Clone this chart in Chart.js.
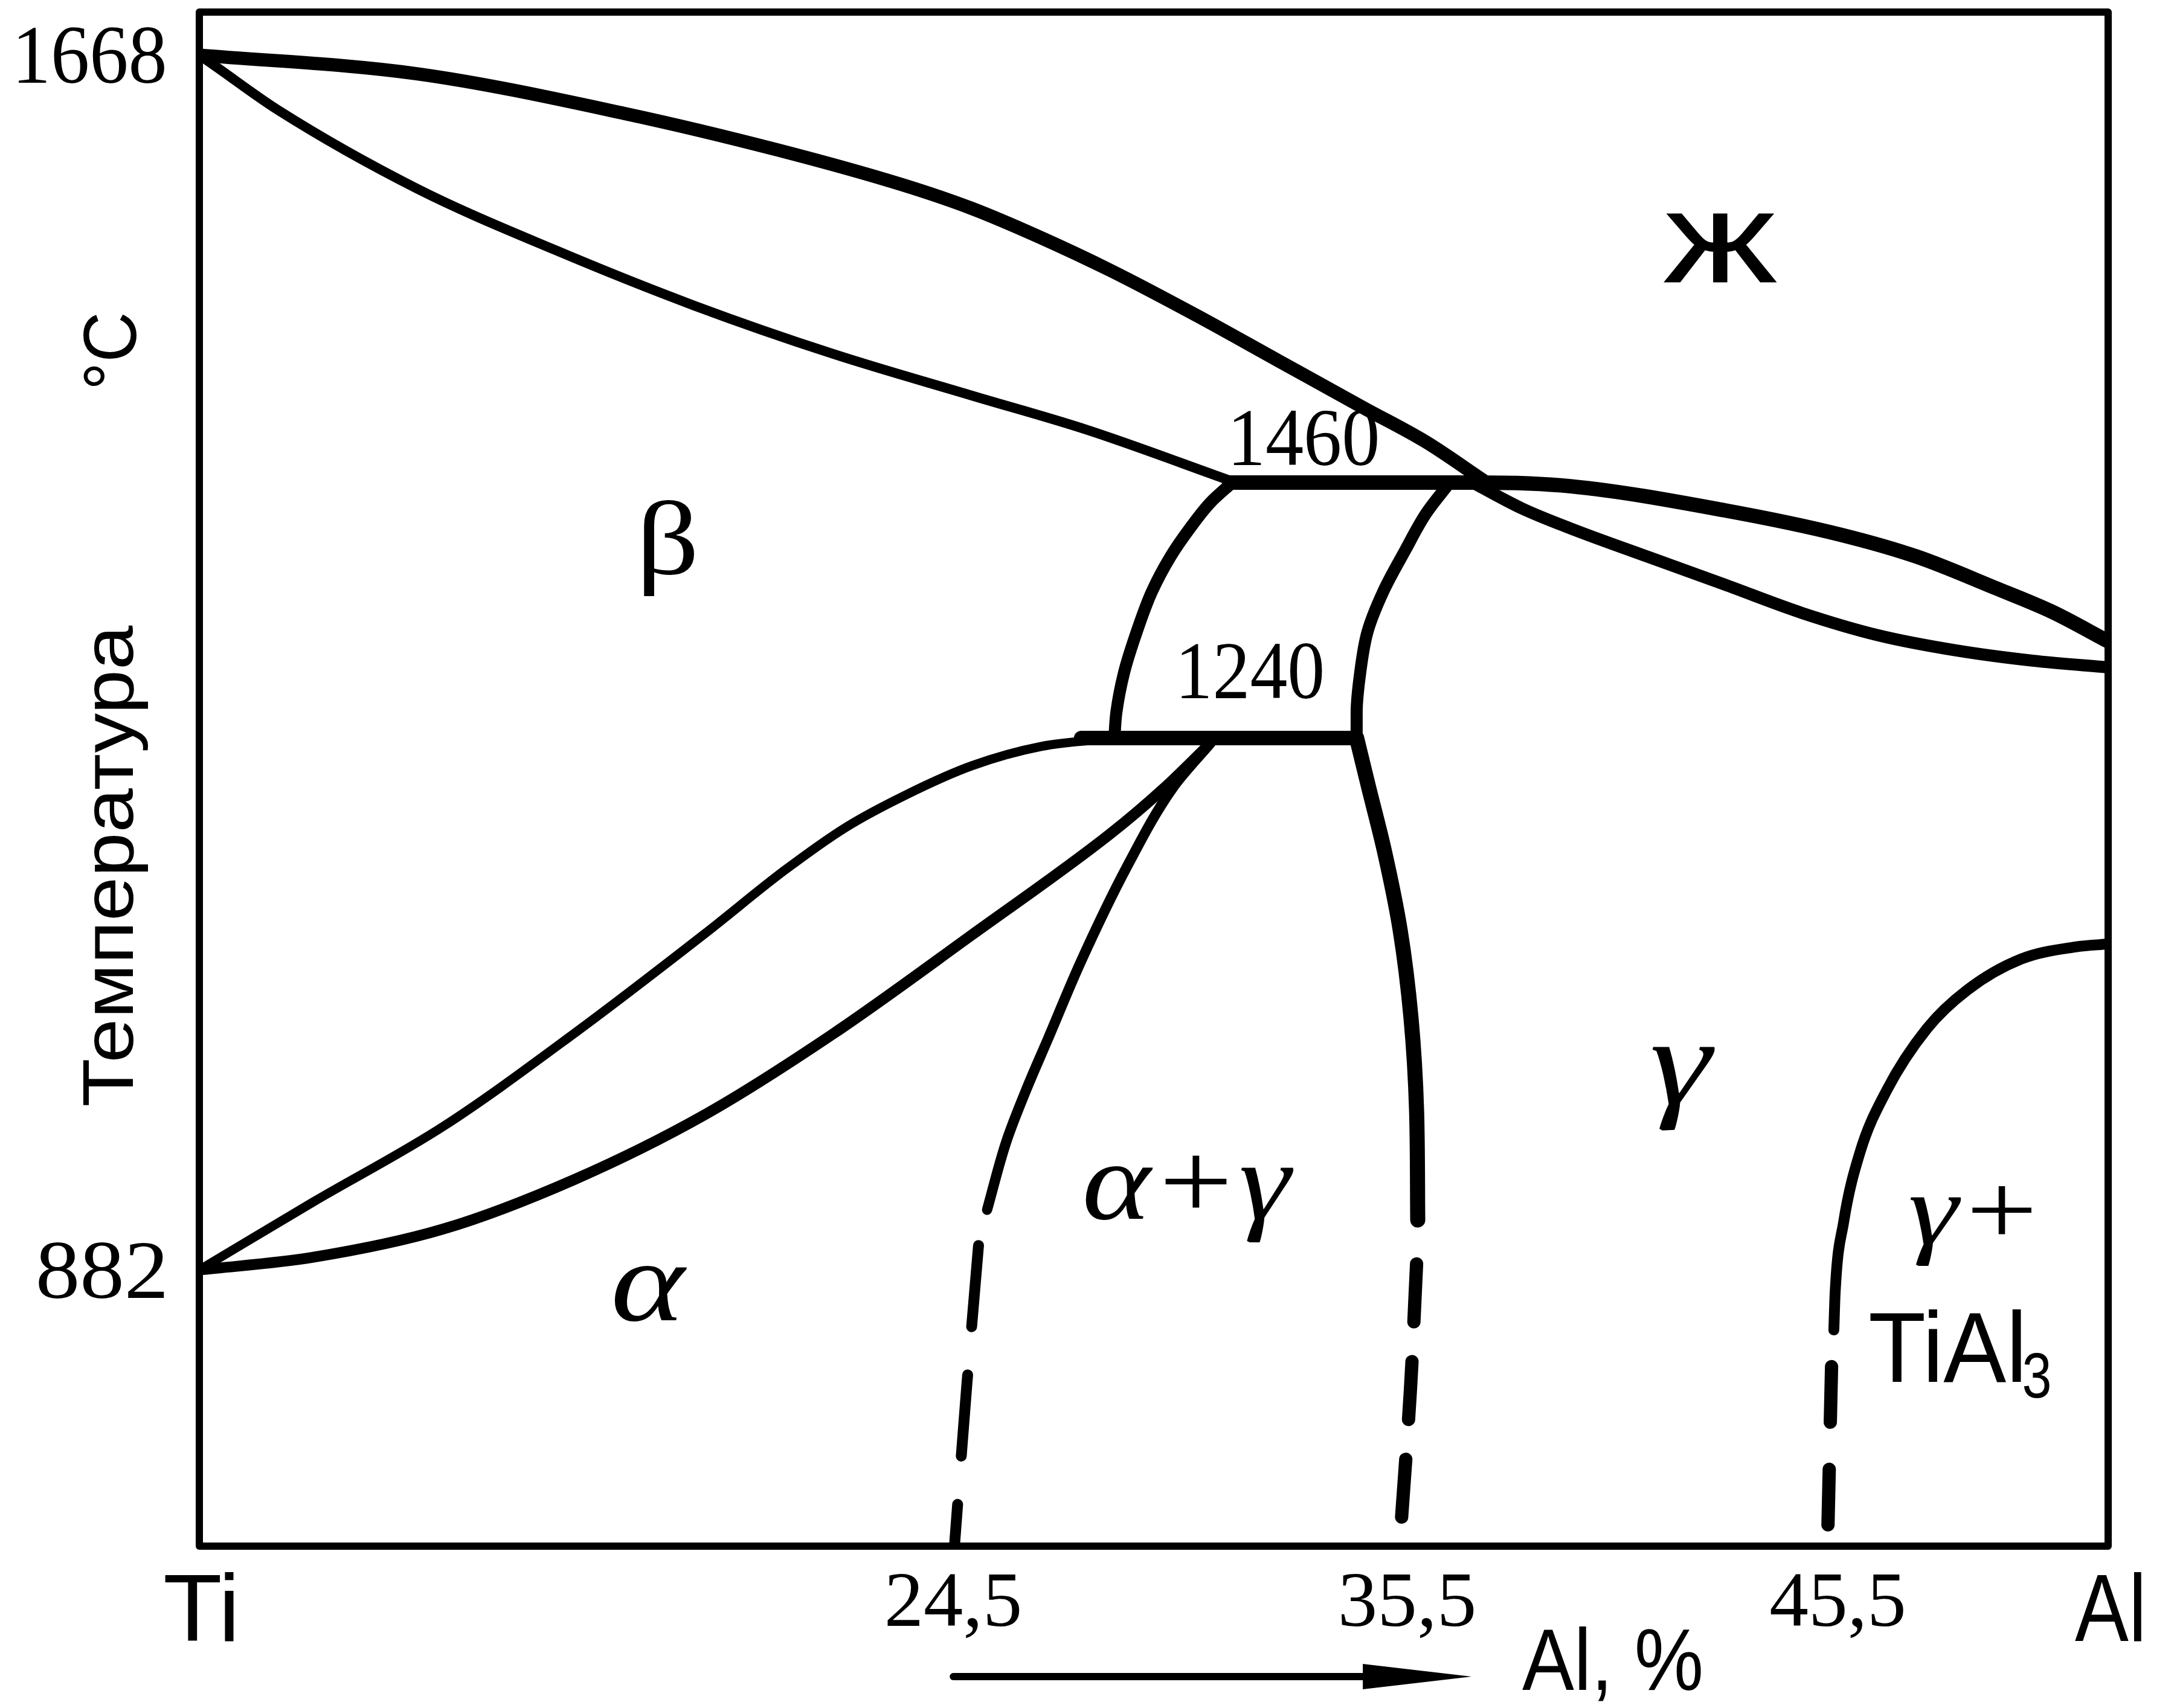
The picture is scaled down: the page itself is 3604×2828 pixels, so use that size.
<!DOCTYPE html>
<html>
<head>
<meta charset="utf-8">
<script src="https://cdn.jsdelivr.net/npm/chart.js@4.4.1/dist/chart.umd.min.js"></script>
<style>
  html, body { margin: 0; padding: 0; background: #fff; }
  canvas { display: block; }
</style>
</head>
<body>
<canvas id="phase" width="3604" height="2828"></canvas>
<script>
// Ti - Al phase diagram, schematic.
// x: 0 = Ti side of the frame, 100 = Al side; y: 0 = bottom of frame, 100 = top.

const xTickValues = [0, 39.5, 63.3, 85.8, 100];
const xTickLabels = ['Ti', '24,5', '35,5', '45,5', 'Al'];
const yTickValues = [97.2, 18.0];
const yTickLabels = ['1668', '882'];

// boundaries, [x, y]
const liquidusTi = [[0,97.2],[11.39,95.98],[22.28,93.39],[30.28,91.02],[36.84,88.74],[40.47,87.2],[43.99,85.35],[47.75,83.15],[52.22,80.24],[56.52,77.28],[61.04,74.17],[64.27,71.97],[67.25,69.49]];
const solidusTi = [[0,97.2],[0.85,96.46],[4.11,93.62],[11.39,88.5],[18.64,84.49],[25.92,80.87],[33.2,77.72],[40.47,75.0],[46.52,72.76],[54.11,69.41]];
const line1460 = [[53.96,69.33],[60.76,69.33],[67.03,69.33],[71.84,69.09],[79.91,67.52],[85.95,65.94],[90.0,64.49],[94.05,62.48],[97.06,60.91],[100,58.98]];
const lowerRight = [[66.77,69.29],[69.3,67.64],[71.84,66.34],[75.89,64.49],[79.91,62.68],[83.96,60.83],[87.97,59.37],[92.03,58.39],[96.04,57.72],[100,57.28]];
const betaLeft = [[54.11,69.33],[52.97,68.03],[51.84,66.26],[50.89,64.53],[49.91,62.24],[49.11,59.61],[48.45,56.97],[48.04,54.33],[47.94,52.68]];
const betaRight = [[65.51,69.33],[64.27,67.32],[63.16,64.88],[62.03,62.24],[61.2,59.61],[60.82,56.97],[60.63,54.33],[60.63,52.68]];
const line1240 = [[46.2,52.68],[60.63,52.68]];
const alphaUpper = [[0,18.0],[5.92,22.4],[12.78,27.36],[19.65,33.43],[26.52,39.96],[30.7,44.09],[33.86,46.85],[37.03,48.98],[40.47,50.87],[44.11,52.13],[48.1,52.68]];
const alphaLower = [[0,18.0],[5.92,18.82],[12.78,20.67],[19.65,23.9],[26.52,28.15],[33.2,33.39],[40.47,39.84],[47.75,46.46],[50.54,49.41],[52.85,52.2]];
const alphaGamma = [[52.99,52.36],[51.01,49.45],[48.58,44.25],[46.2,38.15],[44.46,33.07],[43.35,29.84],[42.28,26.38],[41.27,21.93]];
const alphaGammaDash = [[40.82,19.6],[40.19,10.24],[39.56,0]];
const gammaLeft = [[60.63,52.68],[61.23,49.61],[62.09,45.28],[62.91,40.16],[63.48,34.41],[63.77,28.39],[63.83,21.26]];
const gammaLeftDash = [[63.77,18.4],[63.45,10.24],[62.97,1.6]];
const gammaTiAl3 = [[100,39.25],[98.29,39.06],[95.44,38.27],[92.63,36.26],[90.51,33.74],[88.39,29.69],[86.99,25.63],[86.14,21.1],[85.7,16.57],[85.63,14.09]];
const gammaTiAl3Dash = [[85.51,11.7],[85.32,1.2]];

const serif = '"Liberation Serif", "Times New Roman", serif';
const sans = '"Liberation Sans", Arial, sans-serif';

// along: 'x' for curves running left-right, 'y' for the steep ones
function curve(points, width, along, dash) {
  return {
    data: points.map(p => ({ x: p[0], y: p[1] })),
    indexAxis: along,
    showLine: true,
    borderColor: '#000',
    borderWidth: width,
    borderDash: dash || [],
    borderCapStyle: 'round',
    borderJoinStyle: 'round',
    cubicInterpolationMode: 'monotone',
    pointRadius: 0,
    fill: false
  };
}

const datasets = [
  curve(liquidusTi, 22, 'x'),
  curve(solidusTi, 16, 'x'),
  curve(line1460, 24, 'x'),
  curve(lowerRight, 20, 'x'),
  curve(betaLeft, 20, 'y'),
  curve(betaRight, 20, 'y'),
  curve(line1240, 24, 'x'),
  curve(alphaUpper, 15, 'x'),
  curve(alphaLower, 18, 'x'),
  curve(alphaGamma, 17, 'y'),
  curve(alphaGammaDash, 18, 'y', [135, 80]),
  curve(gammaLeft, 25, 'y'),
  curve(gammaLeftDash, 22, 'y', [96, 66]),
  curve(gammaTiAl3, 18, 'x'),
  curve(gammaTiAl3Dash, 22, 'y', [92, 78])
];

// text inside the diagram, anchored at baseline
const regionLabels = [
  { text: 'Ж', x: 79.68, y: 82.48, font: '160px ' + sans, width: 179, stroke: 4 },
  { text: 'β', x: 24.62, y: 63.39, font: '174px ' + serif, width: 84 },
  { text: 'α', x: 23.64, y: 14.72, font: 'italic 190px ' + serif, width: 120 },
  { text: 'α+γ', x: 51.87, y: 21.34, font: 'italic 185px ' + serif, width: 344 },
  { text: 'γ', x: 77.75, y: 28.82, font: 'italic 206px ' + serif, width: 104 },
  { text: 'γ+', x: 92.82, y: 19.69, font: 'italic 170px ' + serif, width: 201 },
  { text: 'TiAl', x: 87.53, y: 10.71, font: '165px ' + sans, width: 250, align: 'left' },
  { text: '3', x: 95.6, y: 9.69, font: '105px ' + sans, width: 42, align: 'left' },
  { text: '1460', x: 57.94, y: 70.47, font: '136px ' + serif, width: 238 },
  { text: '1240', x: 55.13, y: 55.28, font: '136px ' + serif, width: 233 }
];

function drawText(ctx, text, px, py, font, width, align, angle, vcenter, stroke) {
  ctx.save();
  ctx.font = font;
  ctx.textAlign = 'left';
  ctx.textBaseline = 'alphabetic';
  const m = ctx.measureText(text);
  const ink = m.actualBoundingBoxLeft + m.actualBoundingBoxRight;
  const sx = width ? width / ink : 1;
  const w = ink * sx;
  const startX = align === 'left' ? 0 : align === 'right' ? -w : -w / 2;
  ctx.translate(px, py);
  if (angle) ctx.rotate(angle);
  ctx.translate(startX, vcenter ? m.actualBoundingBoxAscent / 2 : 0);
  ctx.scale(sx, 1);
  ctx.fillStyle = '#000';
  ctx.fillText(text, m.actualBoundingBoxLeft, 0);
  if (stroke) {
    ctx.strokeStyle = '#000';
    ctx.lineWidth = stroke;
    ctx.strokeText(text, m.actualBoundingBoxLeft, 0);
  }
  ctx.restore();
}

const diagramPlugin = {
  id: 'diagram',
  afterDraw(chart) {
    const ctx = chart.ctx;
    const a = chart.chartArea;
    const xs = chart.scales.x, ys = chart.scales.y;

    // frame
    ctx.save();
    ctx.strokeStyle = '#000';
    ctx.lineWidth = 12;
    ctx.lineJoin = 'round';
    ctx.strokeRect(a.left, a.top, a.right - a.left, a.bottom - a.top);
    ctx.restore();

    // y tick labels
    const yWidths = [241, 208];
    yTickValues.forEach((v, i) => {
      drawText(ctx, yTickLabels[i], a.left - 58, ys.getPixelForValue(v), '138px ' + serif, yWidths[i], 'right', 0, true);
    });

    // x tick labels
    const xWidths = [114, 219, 219, 220, 110];
    xTickValues.forEach((v, i) => {
      const isEnd = i === 0 || i === xTickValues.length - 1;
      drawText(ctx, xTickLabels[i], xs.getPixelForValue(v), a.bottom + (isEnd ? 157 : 132),
        isEnd ? '158px ' + sans : '129px ' + serif, xWidths[i], 'center');
    });

    // axis titles
    drawText(ctx, 'Al, %', xs.getPixelForValue(69.3), a.bottom + 238, '145px ' + sans, 296, 'left');
    drawText(ctx, '°C', a.left - 105, ys.getPixelForValue(77.95), '124px ' + sans, 119, 'center', -Math.PI / 2);
    drawText(ctx, 'Температура', a.left - 110, ys.getPixelForValue(44.37), '118px ' + sans, 795, 'center', -Math.PI / 2);

    // arrow under the axis
    const ax0 = xs.getPixelForValue(39.5), ax1 = xs.getPixelForValue(66.65), ay = a.bottom + 216;
    ctx.save();
    ctx.strokeStyle = '#000';
    ctx.fillStyle = '#000';
    ctx.lineWidth = 12;
    ctx.lineCap = 'round';
    ctx.beginPath();
    ctx.moveTo(ax0, ay);
    ctx.lineTo(ax1 - 60, ay);
    ctx.stroke();
    ctx.beginPath();
    ctx.moveTo(ax1, ay);
    ctx.lineTo(ax1 - 180, ay - 21);
    ctx.lineTo(ax1 - 180, ay + 21);
    ctx.closePath();
    ctx.fill();
    ctx.restore();

    regionLabels.forEach(l => {
      drawText(ctx, l.text, xs.getPixelForValue(l.x), ys.getPixelForValue(l.y), l.font, l.width, l.align || 'center', 0, false, l.stroke);
    });
  }
};

new Chart(document.getElementById('phase'), {
  type: 'scatter',
  data: { datasets },
  options: {
    responsive: false,
    animation: false,
    devicePixelRatio: 1,
    layout: { padding: { left: 330, right: 114, top: 20, bottom: 268 } },
    plugins: { legend: { display: false }, tooltip: { enabled: false } },
    scales: {
      x: { type: 'linear', min: 0, max: 100, display: false },
      y: { type: 'linear', min: 0, max: 100, display: false }
    }
  },
  plugins: [diagramPlugin]
});
</script>
</body>
</html>
